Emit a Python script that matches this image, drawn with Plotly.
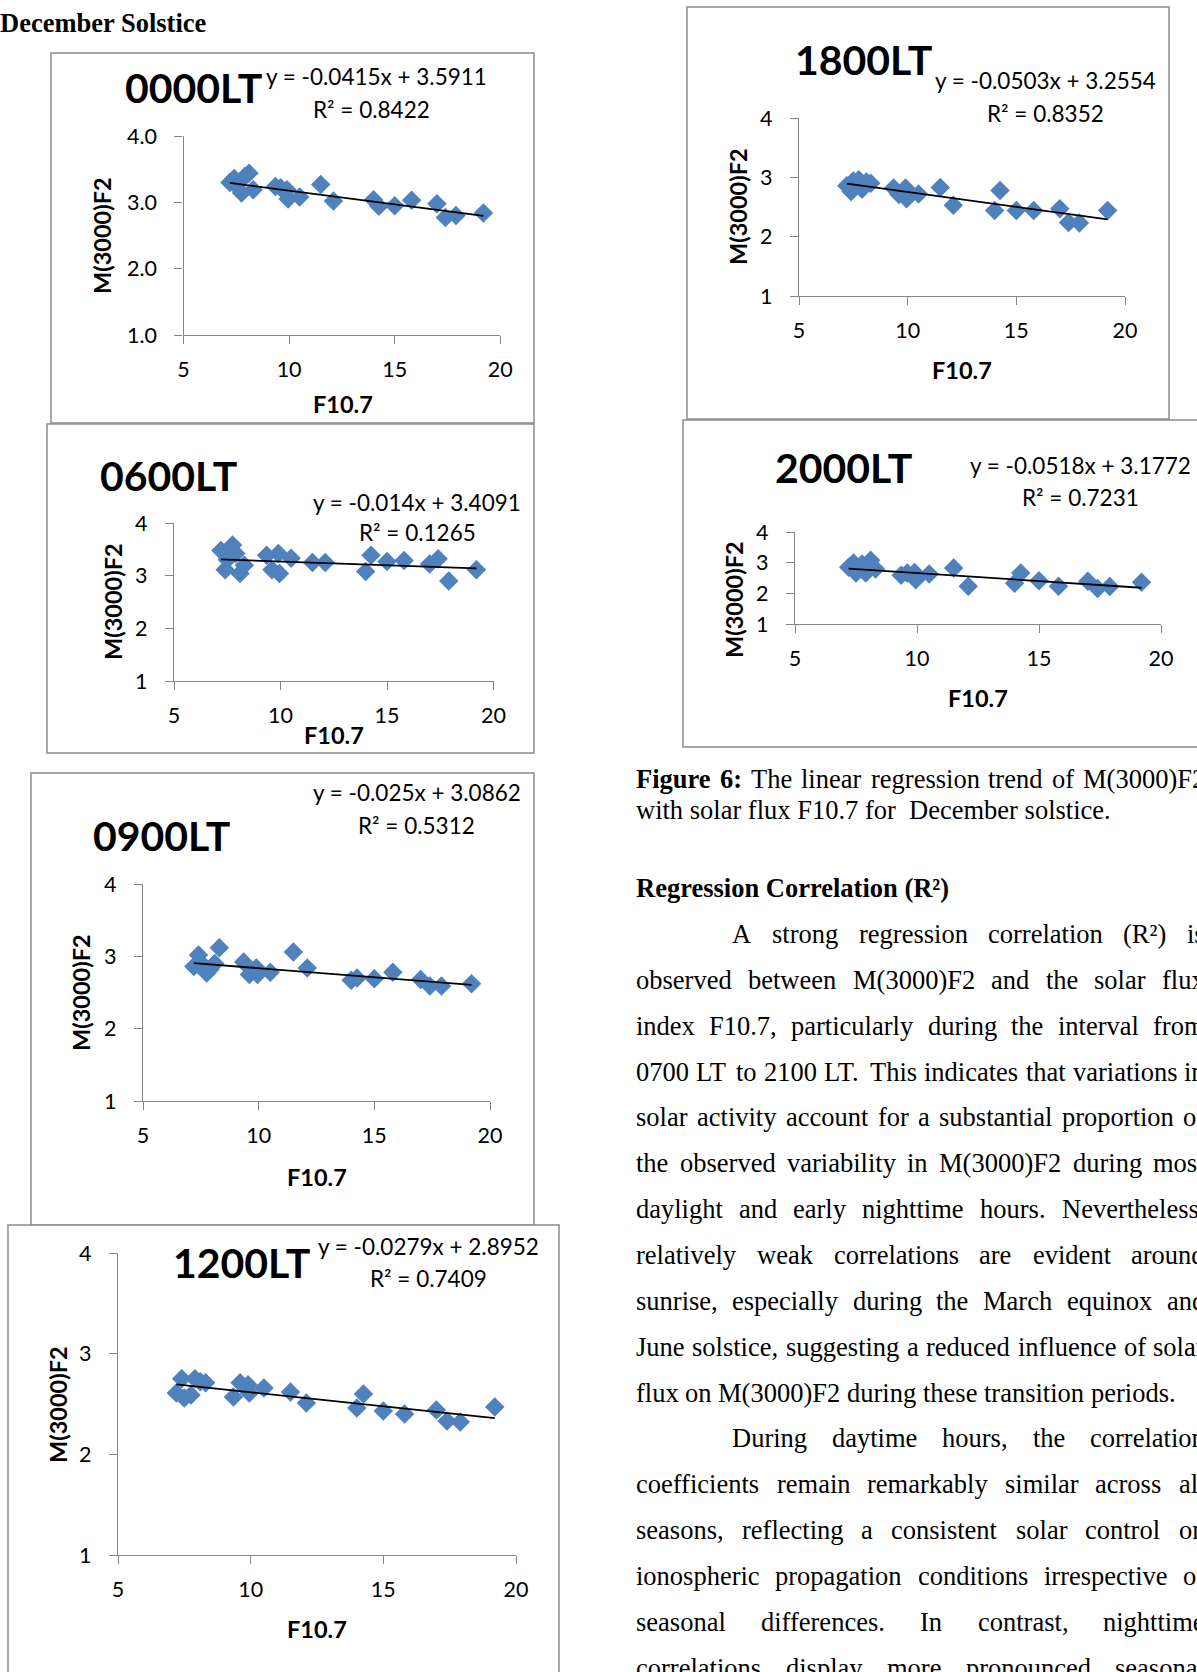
import plotly.graph_objects as go

W, H = 1197, 1672

# ---------------- data ----------------
# Solar flux index shared by every local-time panel
f107 = [7.2, 7.4, 7.5, 7.75, 7.9, 8.1, 8.3, 9.35, 9.6, 9.9, 9.95, 10.5,
        11.5, 12.1, 14.0, 14.25, 15.0, 15.8, 17.0, 17.4, 17.9, 19.2]

m3000_0000 = [3.30, 3.36, 3.25, 3.14, 3.39, 3.44, 3.19, 3.24, 3.22, 3.19, 3.05,
              3.08, 3.27, 3.02, 3.04, 2.94, 2.95, 3.03, 2.98, 2.77, 2.80, 2.84]
m3000_0600 = [3.48, 3.11, 3.30, 3.58, 3.42, 3.04, 3.20, 3.39, 3.11, 3.42, 3.04,
              3.33, 3.25, 3.25, 3.08, 3.39, 3.27, 3.29, 3.22, 3.32, 2.90, 3.11]
m3000_0900 = [2.86, 3.02, 2.91, 2.77, 2.82, 2.90, 3.12, 2.92, 2.75, 2.84, 2.75,
              2.78, 3.06, 2.84, 2.67, 2.70, 2.69, 2.78, 2.68, 2.59, 2.59, 2.62]
m3000_1200 = [2.61, 2.75, 2.56, 2.59, 2.75, 2.72, 2.71, 2.57, 2.71, 2.69, 2.61,
              2.66, 2.62, 2.51, 2.46, 2.60, 2.43, 2.40, 2.44, 2.33, 2.32, 2.47]
m3000_1800 = [2.86, 2.76, 2.94, 2.96, 2.80, 2.92, 2.90, 2.82, 2.71, 2.82, 2.64,
              2.72, 2.83, 2.53, 2.44, 2.78, 2.44, 2.44, 2.47, 2.24, 2.23, 2.44]
m3000_2000 = [2.85, 2.99, 2.66, 2.96, 2.66, 3.08, 2.79, 2.59, 2.66, 2.68, 2.44,
              2.63, 2.83, 2.23, 2.33, 2.66, 2.41, 2.23, 2.39, 2.16, 2.22, 2.36]

local_times = ["0000LT", "0600LT", "0900LT", "1200LT", "1800LT", "2000LT"]
slopes = [-0.0415, -0.014, -0.025, -0.0279, -0.0503, -0.0518]
intercepts = [3.5911, 3.4091, 3.0862, 2.8952, 3.2554, 3.1772]
r_squared = [0.8422, 0.1265, 0.5312, 0.7409, 0.8352, 0.7231]
x_ticks = [5, 10, 15, 20]
y_ticks = [1, 2, 3, 4]
series = [m3000_0000, m3000_0600, m3000_0900, m3000_1200, m3000_1800, m3000_2000]

# ---------------- page geometry (pixels) ----------------
# frame: (left, top, right, bottom); axes: (x at 5, x at 20, y at 4, y at 1)
geom = [
    dict(frame=(51, 53, 534, 423), axes=(183.5, 500.3, 136, 335),
         title=(193, 87), eq=(376, 77), r2=(371, 110), xt=(343, 404), yt=(102, 236)),
    dict(frame=(47, 424, 534, 753), axes=(174, 493.5, 523, 681),
         title=(168, 475), eq=(417, 502), r2=(417, 533), xt=(334, 735), yt=(113, 602)),
    dict(frame=(31, 773, 534, 1225), axes=(143, 490, 884, 1101),
         title=(161, 835), eq=(417, 793), r2=(416, 825), xt=(317, 1177), yt=(81, 993)),
    dict(frame=(8, 1225, 559, 1700), axes=(118, 516, 1253, 1555),
         title=(241, 1262), eq=(428, 1246), r2=(428, 1278), xt=(317, 1629), yt=(58, 1405)),
    dict(frame=(687, 7, 1169, 419), axes=(799, 1125, 118, 296),
         title=(863, 59), eq=(1045, 80), r2=(1045, 113), xt=(962, 370), yt=(738, 207)),
    dict(frame=(683, 420, 1230, 747), axes=(795, 1161, 532, 624),
         title=(843, 468), eq=(1080, 465), r2=(1080, 497), xt=(978, 698), yt=(734, 600)),
]

CHART_FONT = "Lato, Open Sans, sans-serif"
SERIF = "Liberation Serif, Times New Roman, serif"
BLUE = "#4F81BD"
AXIS_GRAY = "#868686"
FRAME_GRAY = "#8c8c8c"


def fx(px):
    return px / W


def fy(py):
    return 1 - py / H


fig = go.Figure()
shapes = []
annotations = []
layout_axes = {}


def note(text, x, y, size, family=CHART_FONT, bold=False, angle=0,
         xanchor="center", yanchor="middle"):
    annotations.append(dict(
        text=f"<b>{text}</b>" if bold else text,
        x=fx(x), y=fy(y), xref="paper", yref="paper",
        xanchor=xanchor, yanchor=yanchor, showarrow=False, textangle=angle,
        borderpad=0, borderwidth=0,
        font=dict(family=family, size=size, color="black")))


for i, (name, ys, g) in enumerate(zip(local_times, series, geom)):
    k = "" if i == 0 else str(i + 1)
    xa, ya = "x" + k, "y" + k
    L, T, R, B = g["frame"]
    shapes.append(dict(type="rect", xref="paper", yref="paper",
                       x0=fx(L), x1=fx(R), y0=fy(B), y1=fy(T),
                       line=dict(color=FRAME_GRAY, width=1.5),
                       fillcolor="white", layer="below"))

    x5, x20, y4, y1 = g["axes"]
    common = dict(showgrid=False, zeroline=False, showline=True,
                  linecolor=AXIS_GRAY, linewidth=1.3, ticks="outside",
                  ticklen=8, tickwidth=1.3, tickcolor=AXIS_GRAY,
                  tickfont=dict(family=CHART_FONT, size=21.5, color="black"),
                  fixedrange=True, automargin=False)
    layout_axes["xaxis" + k] = dict(common, domain=[fx(x5), fx(x20)],
                                    range=[5, 20], tickvals=x_ticks,
                                    anchor=ya, ticklabelstandoff=7)
    layout_axes["yaxis" + k] = dict(common, domain=[fy(y1), fy(y4)],
                                    range=[1, 4], tickvals=y_ticks,
                                    tickformat=".1f" if i == 0 else "d",
                                    anchor=xa, ticklabelstandoff=13)

    fig.add_trace(go.Scatter(
        x=f107, y=ys, mode="markers", xaxis=xa, yaxis=ya,
        marker=dict(symbol="diamond", size=15, color=BLUE, line=dict(width=0)),
        cliponaxis=False, showlegend=False))

    # linear trend from the fitted equation
    xs = [min(f107), max(f107)]
    fig.add_trace(go.Scatter(
        x=xs, y=[slopes[i] * v + intercepts[i] for v in xs], mode="lines",
        xaxis=xa, yaxis=ya, line=dict(color="black", width=1.8),
        showlegend=False))

    note(name, *g["title"], size=41, bold=True)
    note(f"y = {slopes[i]:g}x + {intercepts[i]:g}", *g["eq"], size=22.5)
    note(f"R² = {r_squared[i]:.4f}", *g["r2"], size=22.5)
    note("F10.7", *g["xt"], size=23.5, bold=True)
    note("M(3000)F2", *g["yt"], size=23.5, bold=True, angle=-90)

# ---------------- body text ----------------
TIMES = {" ": 250, "(": 333, ")": 333, ",": 250, ".": 250, ":": 278, "-": 333,
         "²": 300, "0": 500, "1": 500, "2": 500, "3": 500, "4": 500, "5": 500,
         "6": 500, "7": 500, "8": 500, "9": 500,
         "A": 722, "B": 667, "C": 667, "D": 722, "E": 611, "F": 556, "G": 722,
         "H": 722, "I": 333, "J": 389, "K": 722, "L": 611, "M": 889, "N": 722,
         "O": 722, "P": 556, "Q": 722, "R": 667, "S": 556, "T": 611, "U": 722,
         "V": 722, "W": 944, "X": 722, "Y": 722, "Z": 611,
         "a": 444, "b": 500, "c": 444, "d": 500, "e": 444, "f": 333, "g": 500,
         "h": 500, "i": 278, "j": 278, "k": 500, "l": 278, "m": 778, "n": 500,
         "o": 500, "p": 500, "q": 500, "r": 333, "s": 389, "t": 278, "u": 500,
         "v": 500, "w": 722, "x": 500, "y": 500, "z": 444}
TIMES_BOLD = {"F": 611, "i": 278, "g": 500, "u": 556, "r": 444, "e": 444,
              "6": 500, ":": 333, " ": 250}

FS = 26.5
COL_LEFT, COL_RIGHT = 636, 1205
INDENT = 96


def width(word, bold=False):
    table = TIMES_BOLD if bold else TIMES
    return sum(table.get(c, TIMES.get(c, 500)) for c in word) * FS / 1000


def place_line(words, y, justify, indent=0, n_bold=0):
    x0 = COL_LEFT + indent
    widths = [width(w, j < n_bold) for j, w in enumerate(words)]
    if justify and len(words) > 1:
        gap = (COL_RIGHT - x0 - sum(widths)) / (len(words) - 1)
    else:
        gap = TIMES[" "] * FS / 1000
    x = x0
    for j, (w, wd) in enumerate(zip(words, widths)):
        note(w, x, y, FS, family=SERIF, bold=j < n_bold, xanchor="left")
        x += wd + gap


note("December Solstice", 0, 23, FS, family=SERIF, bold=True, xanchor="left")

place_line(["Figure", "6:", "The", "linear", "regression", "trend", "of",
            "M(3000)F2"], 779, True, n_bold=2)
note("with solar flux F10.7 for&nbsp;&nbsp;December solstice.", COL_LEFT, 810,
     FS, family=SERIF, xanchor="left")
note("Regression Correlation (R²)", COL_LEFT, 888, FS, family=SERIF,
     bold=True, xanchor="left")

paragraph = [
    ("A strong regression correlation (R²) is", True, True),
    ("observed between M(3000)F2 and the solar flux", False, True),
    ("index F10.7, particularly during the interval from", False, True),
    ("0700 LT to 2100 LT. This indicates that variations in", False, True),
    ("solar activity account for a substantial proportion of", False, True),
    ("the observed variability in M(3000)F2 during most", False, True),
    ("daylight and early nighttime hours. Nevertheless,", False, True),
    ("relatively weak correlations are evident around", False, True),
    ("sunrise, especially during the March equinox and", False, True),
    ("June solstice, suggesting a reduced influence of solar", False, True),
    ("flux on M(3000)F2 during these transition periods.", False, False),
    ("During daytime hours, the correlation", True, True),
    ("coefficients remain remarkably similar across all", False, True),
    ("seasons, reflecting a consistent solar control on", False, True),
    ("ionospheric propagation conditions irrespective of", False, True),
    ("seasonal differences. In contrast, nighttime", False, True),
    ("correlations display more pronounced seasonal", False, True),
]
for n, (line, indent, justify) in enumerate(paragraph):
    place_line(line.split(" "), 934 + n * 45.85, justify,
               indent=INDENT if indent else 0)

fig.update_layout(
    width=W, height=H,
    margin=dict(l=0, r=0, t=0, b=0, pad=0, autoexpand=False),
    paper_bgcolor="white", plot_bgcolor="rgba(0,0,0,0)",
    showlegend=False, shapes=shapes, annotations=annotations,
    **layout_axes)

fig.write_html("out.html")
